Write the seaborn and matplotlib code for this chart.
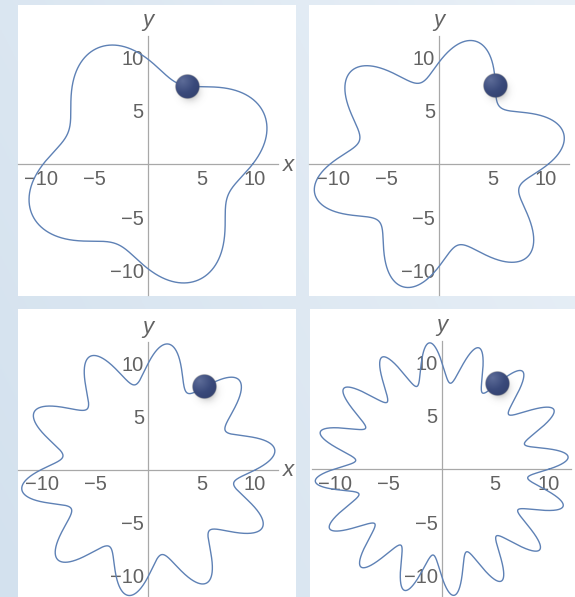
import numpy as np
import pandas as pd
import matplotlib
matplotlib.use("Agg")
import matplotlib.pyplot as plt
import matplotlib.colors as mcolors
import seaborn as sns

# ---- wavy closed curves r(theta) = R + a*cos(n*(theta - c)) ----
lobes = [4, 6, 10, 16]
base_radius = [9.95, 9.9, 10.05, 10.0]
amplitude = [1.9, 2.1, 1.95, 1.9]
lobe_center_deg = [23.5, 13.5, 9.0, 5.5]

# where the ball sits on each curve
dot_x = [3.75, 5.38, 5.06, 5.2]
dot_y = [7.4, 7.4, 8.19, 8.1]

tick_values = [-10, -5, 5, 10]
tick_labels = ["\u221210", "\u22125", "5", "10"]
minor_values = [v for v in range(-12, 13) if v % 5 != 0]

W, H = 575, 597
PX = 10.67  # pixels per unit
# panel frames in pixels: left, top, right, bottom, origin x, origin y
frames = [
    (18, 5, 296, 296, 148.0, 164.0),
    (309, 5, 575, 296, 439.3, 164.0),
    (18, 309, 296, 597, 148.3, 470.7),
    (310, 309, 575, 597, 441.7, 469.3),
]
show_x_label = [True, False, True, False]

curve_color = "#5e81b5"
axis_gray = "#a8a8a8"
label_gray = "#626262"

sns.set_style("white")
plt.rcParams["font.family"] = ["Liberation Sans", "DejaVu Sans"]

fig = plt.figure(figsize=(W / 100, H / 100), dpi=100)

# soft blue backdrop
bg = fig.add_axes([0, 0, 1, 1], zorder=-10)
g = np.linspace(0, 1, 256)
GX, GY = np.meshgrid(g, g)
w = np.clip(0.65 * GX + 0.35 * GY, 0, 1)
c0 = np.array(mcolors.to_rgb("#d3e1ee"))
c1 = np.array(mcolors.to_rgb("#e9f0f7"))
bg.imshow(c0 + (c1 - c0) * w[..., None], origin="lower", extent=(0, 1, 0, 1), aspect="auto")
bg.axis("off")


def sphere_image(n=240, half=2.2, radius=1.13):
    s = np.linspace(-half, half, n)
    X, Y = np.meshgrid(s, s)
    # drop shadow
    sh = np.exp(-(((X - 0.25) ** 2 + (Y + 0.45) ** 2) / (2 * 0.55 ** 2)))
    sh_alpha = 0.55 * sh
    rgba = np.zeros((n, n, 4))
    rgba[..., :3] = 0.35
    rgba[..., 3] = sh_alpha
    # ball with soft top-left light
    d = np.sqrt(X ** 2 + Y ** 2)
    inside = np.clip((radius - d) / 0.06 + 0.5, 0, 1)
    hl = np.sqrt((X + 0.45) ** 2 + (Y - 0.55) ** 2) / (2 * radius)
    base = np.array(mcolors.to_rgb("#3a4a7b"))
    light = np.array(mcolors.to_rgb("#5d6c98"))
    dark = np.array(mcolors.to_rgb("#2f3d69"))
    t = np.clip(hl, 0, 1)[..., None]
    col = np.where(t < 0.5, light + (base - light) * (t / 0.5), base + (dark - base) * ((t - 0.5) / 0.5))
    a = inside[..., None]
    rgba[..., :3] = col * a + rgba[..., :3] * (1 - a)
    rgba[..., 3] = inside + sh_alpha * (1 - inside)
    return rgba, half


ball, half = sphere_image()

for i, (l, t_, r_, b_, ox, oy) in enumerate(frames):
    ax = fig.add_axes([l / W, 1 - b_ / H, (r_ - l) / W, (b_ - t_) / H])
    ax.set_facecolor("white")

    th = np.linspace(0, 2 * np.pi, 4001)
    rad = base_radius[i] + amplitude[i] * np.cos(lobes[i] * (th - np.radians(lobe_center_deg[i])))
    df = pd.DataFrame({"x": rad * np.cos(th), "y": rad * np.sin(th)})
    sns.lineplot(data=df, x="x", y="y", sort=False, estimator=None, ax=ax,
                 color=curve_color, linewidth=1.0, zorder=3)

    # ball placed on the curve point nearest its position
    k = int(np.argmin((df["x"] - dot_x[i]) ** 2 + (df["y"] - dot_y[i]) ** 2))
    cx, cy = df["x"].iloc[k], df["y"].iloc[k]
    ax.imshow(ball, origin="lower", extent=(cx - half, cx + half, cy - half, cy + half),
              interpolation="bilinear", zorder=5)

    ax.set_aspect("auto")
    ax.set_xlim((l - ox) / PX, (r_ - ox) / PX)
    ax.set_ylim((oy - b_) / PX, (oy - t_) / PX)

    for side in ("top", "right"):
        ax.spines[side].set_visible(False)
    for side in ("left", "bottom"):
        ax.spines[side].set_position(("data", 0))
        ax.spines[side].set_color(axis_gray)
        ax.spines[side].set_linewidth(0.9)
        ax.spines[side].set_zorder(1)
    ax.spines["bottom"].set_bounds(-12.2, 12.15)
    ax.spines["left"].set_bounds(-12.3, 12.0)

    ax.set_xticks(tick_values)
    ax.set_xticklabels(tick_labels)
    ax.set_yticks(tick_values)
    ax.set_yticklabels(tick_labels)
    ax.set_xticks(minor_values, minor=True)
    ax.set_yticks(minor_values, minor=True)
    ax.tick_params(which="major", direction="in", length=4.5, width=0.8, color=axis_gray,
                   labelsize=14.5, labelcolor=label_gray)
    ax.tick_params(which="minor", direction="in", length=2.5, width=0.7, color=axis_gray)
    ax.tick_params(axis="x", which="major", pad=4)
    ax.tick_params(axis="y", which="major", pad=3)
    ax.set_xlabel("")
    ax.set_ylabel("")

    if show_x_label[i]:
        ax.text(12.6, -0.1, "x", style="italic", fontsize=16, color=label_gray,
                ha="left", va="center", zorder=2)
    ax.text(0, 12.45, "y", style="italic", fontsize=16, color=label_gray,
            ha="center", va="bottom", zorder=2)

fig.savefig("out.png", dpi=100)
